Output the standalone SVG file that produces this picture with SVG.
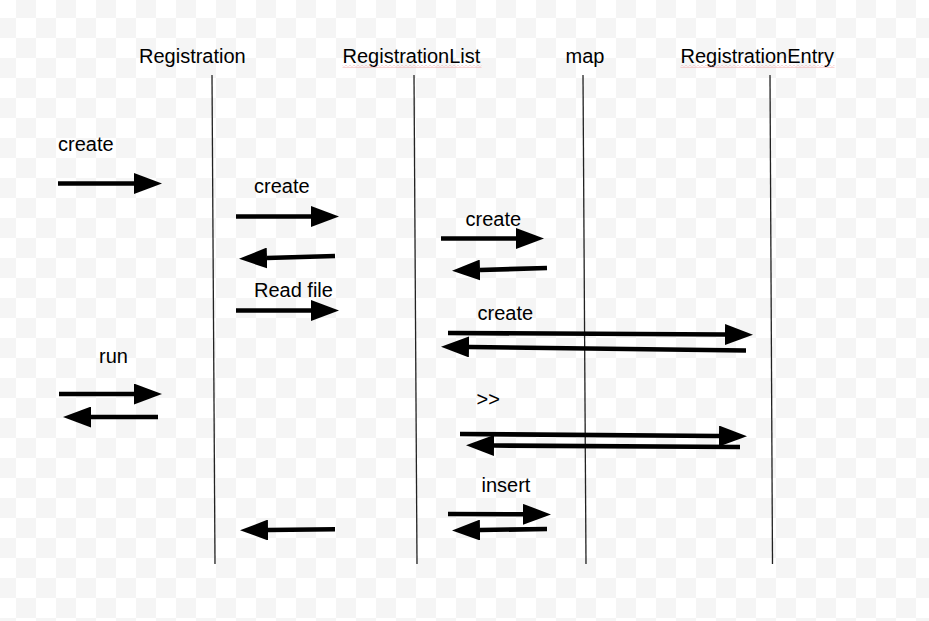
<svg xmlns="http://www.w3.org/2000/svg" width="929" height="621" viewBox="0 0 929 621">
  <style>
    .lbl { font-family: "Liberation Sans", Arial, sans-serif; font-size: 20px; fill: #000; }
    .life { stroke: #222; stroke-width: 1.3; fill: none; }
    .msg { stroke: #000; stroke-width: 4.6; fill: none; marker-end: url(#head); }
  </style>
  <defs>
    <pattern id="chk" x="-4" y="-2" width="40" height="40" patternUnits="userSpaceOnUse">
      <rect width="40" height="40" fill="#ffffff"/>
      <rect x="20" y="0" width="20" height="20" fill="#f5f5f5"/>
      <rect x="0" y="20" width="20" height="20" fill="#f5f5f5"/>
    </pattern>
    <pattern id="squig" x="0" y="0" width="4" height="3" patternUnits="userSpaceOnUse">
      <polyline points="0,0.5 2,2.5 4,0.5" fill="none" stroke="#f2a0a0" stroke-width="0.9"/>
    </pattern>
    <marker id="head" markerUnits="userSpaceOnUse" markerWidth="28" markerHeight="21" viewBox="0 0 27.5 20.5" refX="0" refY="10.25" orient="auto">
      <path d="M0,0 L27.5,10.25 L0,20.5 Z" fill="#000"/>
    </marker>
  </defs>

  <rect x="0" y="0" width="929" height="621" fill="url(#chk)"/>

  <g id="lifeline-registration">
    <text class="lbl" x="139" y="63">Registration</text>
    <path class="life" d="M212,75 L215,564"/>
  </g>
  <g id="lifeline-registrationlist">
    <text class="lbl" x="342.5" y="63">RegistrationList</text>
    <rect x="342.5" y="65" width="139" height="3" fill="url(#squig)"/>
    <path class="life" d="M414,75 L417,564"/>
  </g>
  <g id="lifeline-map">
    <text class="lbl" x="565.5" y="63">map</text>
    <path class="life" d="M583,75 L586,564"/>
  </g>
  <g id="lifeline-registrationentry">
    <text class="lbl" x="680.5" y="63">RegistrationEntry</text>
    <rect x="680.5" y="65" width="154" height="3" fill="url(#squig)"/>
    <path class="life" d="M770,75 L772.5,564"/>
  </g>

  <g id="connectors">
    <path class="msg" d="M58,183.5 L134,183.5"/>
    <path class="msg" d="M236,216.5 L311,216.5"/>
    <path class="msg" d="M335,256 L267,258"/>
    <path class="msg" d="M441,238.5 L516,238.5"/>
    <path class="msg" d="M547,268 L480,270"/>
    <path class="msg" d="M236,310.5 L311,310.5"/>
    <path class="msg" d="M448,333 L725,334.5"/>
    <path class="msg" d="M746,350.5 L469,347"/>
    <path class="msg" d="M59,394 L134,394"/>
    <path class="msg" d="M158,417 L91,417"/>
    <path class="msg" d="M460,434 L719,436"/>
    <path class="msg" d="M740,447 L494,445.5"/>
    <path class="msg" d="M448,514 L523,514.3"/>
    <path class="msg" d="M547,529 L480,530"/>
    <path class="msg" d="M335,529.3 L268,530"/>
  </g>

  <g id="message-labels">
    <text class="lbl" x="58" y="151">create</text>
    <text class="lbl" x="254" y="192.5">create</text>
    <text class="lbl" x="465.5" y="226">create</text>
    <text class="lbl" x="254" y="297">Read file</text>
    <text class="lbl" x="477.5" y="320">create</text>
    <text class="lbl" x="99" y="363">run</text>
    <text class="lbl" x="476.5" y="406">&gt;&gt;</text>
    <text class="lbl" x="481.5" y="492">insert</text>
  </g>
</svg>
